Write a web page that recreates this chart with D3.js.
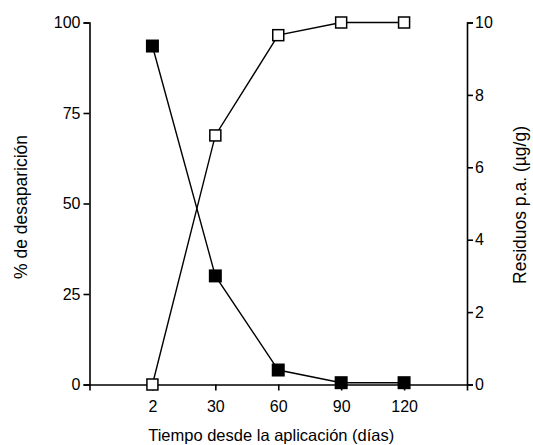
<!DOCTYPE html>
<html>
<head>
<meta charset="utf-8">
<script src="https://cdn.jsdelivr.net/npm/d3@7"></script>
<style>
  body { margin: 0; background: #fff; }
  text { font-family: "Liberation Sans", Arial, sans-serif; fill: #000; }
</style>
</head>
<body>
<svg id="chart" width="533" height="445"></svg>
<script>
// data
const days = ["2", "30", "60", "90", "120"];
const desaparicion = [0, 68.8, 96.5, 100, 100];   // % (left axis), open squares
const residuos = [9.35, 3.0, 0.4, 0.05, 0.05];    // µg/g (right axis), filled squares
const leftTicks = [0, 25, 50, 75, 100];
const rightTicks = [0, 2, 4, 6, 8, 10];

function getConfig() {
    let svg = d3.select("#chart");
    let left = 89.5, right = 467, top = 22.5, bottom = 384.5;
    return {svg, left, right, top, bottom};
}

function drawChart() {
    const c = getConfig();
    const svg = c.svg;

    const x = d3.scaleLinear().domain([0, days.length + 1]).range([c.left, c.right]);
    const yL = d3.scaleLinear().domain([0, 100]).range([c.bottom, c.top]);
    const yR = d3.scaleLinear().domain([0, 10]).range([c.bottom, c.top]);

    // x axis
    const xAxis = svg.append("g")
        .attr("transform", `translate(0,${c.bottom})`)
        .call(d3.axisBottom(x)
            .tickValues(days.map((d, i) => i + 1))
            .tickFormat((d) => days[d - 1])
            .tickSizeOuter(0)
            .tickSize(6)
            .tickPadding(10));

    const yAxisL = svg.append("g")
        .attr("transform", `translate(${c.left},0)`)
        .call(d3.axisLeft(yL).tickValues(leftTicks).tickSizeOuter(0).tickSize(6).tickPadding(3));

    const yAxisR = svg.append("g")
        .attr("transform", `translate(${c.right},0)`)
        .call(d3.axisRight(yR).tickValues(rightTicks).tickSizeOuter(0).tickSize(6).tickPadding(2));

    [xAxis, yAxisL, yAxisR].forEach(g => {
        g.select(".domain").attr("stroke", "#000").attr("stroke-width", 1.6);
        g.selectAll(".tick line").attr("stroke", "#000").attr("stroke-width", 1.6);
        g.selectAll(".tick text")
            .style("font-family", "'Liberation Sans', Arial, sans-serif")
            .style("font-size", "16px")
            .attr("fill", "#000");
    });

    // axis titles
    svg.append("text")
        .attr("x", (c.left + c.right) / 2 - 7)
        .attr("y", 441)
        .attr("text-anchor", "middle")
        .style("font-size", "16.5px")
        .text("Tiempo desde la aplicación (días)");

    svg.append("text")
        .attr("transform", `translate(27,207) rotate(-90)`)
        .attr("text-anchor", "middle")
        .style("font-size", "17.5px")
        .text("% de desaparición");

    svg.append("text")
        .attr("transform", `translate(526,205) rotate(-90)`)
        .attr("text-anchor", "middle")
        .style("font-size", "17.5px")
        .text("Residuos p.a. (µg/g)");

    const line = (scale) => d3.line()
        .x((d, i) => x(i + 1))
        .y(d => scale(d));

    // filled series (residuos)
    svg.append("path")
        .datum(residuos)
        .attr("d", line(yR))
        .attr("fill", "none")
        .attr("stroke", "#000")
        .attr("stroke-width", 1.4);

    // open series (% desaparición)
    svg.append("path")
        .datum(desaparicion)
        .attr("d", line(yL))
        .attr("fill", "none")
        .attr("stroke", "#000")
        .attr("stroke-width", 1.4);

    const s = 13;
    svg.selectAll("rect.filled")
        .data(residuos)
        .enter()
        .append("rect")
        .attr("class", "filled")
        .attr("x", (d, i) => x(i + 1) - s / 2)
        .attr("y", d => yR(d) - s / 2)
        .attr("width", s)
        .attr("height", s)
        .attr("fill", "#000");

    const so = 11;
    svg.selectAll("rect.open")
        .data(desaparicion)
        .enter()
        .append("rect")
        .attr("class", "open")
        .attr("x", (d, i) => x(i + 1) - so / 2)
        .attr("y", d => yL(d) - so / 2)
        .attr("width", so)
        .attr("height", so)
        .attr("fill", "#fff")
        .attr("stroke", "#000")
        .attr("stroke-width", 1.5);
}

drawChart();
</script>
</body>
</html>
